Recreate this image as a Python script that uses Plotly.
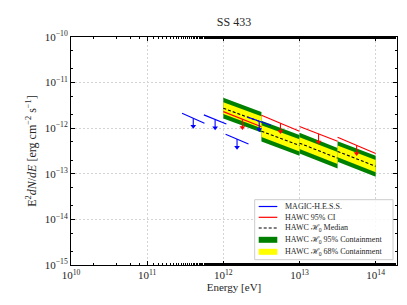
import plotly.graph_objects as go

# ---------------- data ----------------
# HAWC energy bins [eV]
bin_edges_eV = [1e12, 3.162e12, 1e13, 3.162e13, 1e14]

# HAWC H0 median (E^2 dN/dE at lower / upper bin edge) [erg cm^-2 s^-1]
median_start = [2.75e-12, 8.6e-13, 4.7e-13, 3.1e-13]
median_end = [1.35e-12, 4.2e-13, 2.2e-13, 1.46e-13]
# 68 % containment
c68_hi_start = [3.71e-12, 1.16e-12, 6.3e-13, 4.2e-13]
c68_hi_end = [1.82e-12, 5.7e-13, 3.0e-13, 2.0e-13]
c68_lo_start = [2.04e-12, 6.4e-13, 3.5e-13, 2.3e-13]
c68_lo_end = [1.00e-12, 3.1e-13, 1.63e-13, 1.08e-13]
# 95 % containment
c95_hi_start = [4.65e-12, 1.45e-12, 7.9e-13, 5.2e-13]
c95_hi_end = [2.28e-12, 7.1e-13, 3.7e-13, 2.5e-13]
c95_lo_start = [1.63e-12, 5.1e-13, 2.8e-13, 1.83e-13]
c95_lo_end = [0.80e-12, 2.5e-13, 1.3e-13, 0.86e-13]

# HAWC 95 % CI upper limits
hawc_ul_start = [2.31e-12, 1.93e-12, 1.09e-12, 6.3e-13]
hawc_ul_end = [1.08e-12, 8.6e-13, 5.2e-13, 2.8e-13]

# MAGIC-H.E.S.S. upper limits
magic_e_lo = [2.87e11, 5.55e11, 1.07e12, 2.08e12]
magic_e_hi = [5.65e11, 1.096e12, 2.14e12, 4.2e12]
magic_flux_start = [2.14e-12, 1.96e-12, 7.4e-13, 1.75e-12]
magic_flux_end = [1.29e-12, 1.24e-12, 4.5e-13, 1.16e-12]

x_tick_vals = [1e10, 1e11, 1e12, 1e13, 1e14]
x_tick_text = ["10<sup>10</sup>", "10<sup>11</sup>", "10<sup>12</sup>", "10<sup>13</sup>", "10<sup>14</sup>"]
y_tick_vals = [1e-15, 1e-14, 1e-13, 1e-12, 1e-11, 1e-10]
y_tick_text = ["10<sup>−15</sup>", "10<sup>−14</sup>", "10<sup>−13</sup>",
               "10<sup>−12</sup>", "10<sup>−11</sup>", "10<sup>−10</sup>"]

legend_labels = [
    "MAGIC-H.E.S.S.",
    "HAWC 95% CI",
    "HAWC ℋ<sub>0</sub> Median",
    "HAWC ℋ<sub>0</sub> 95% Containment",
    "HAWC ℋ<sub>0</sub> 68% Containment",
]

# ---------------- style ----------------
FONT = "Liberation Serif"
GREEN = "#008000"
YELLOW = "#ffff00"
RED = "#ff0000"
BLUE = "#0000ff"
TXT = "#262626"
ARROW_FRAC = 0.66  # arrow tip relative to the UL level (log-axis length)

fig = go.Figure()

n_bins = len(bin_edges_eV) - 1

# 95 % containment (green)
for i in range(n_bins):
    lo, hi = bin_edges_eV[i], bin_edges_eV[i + 1]
    fig.add_trace(go.Scatter(
        x=[lo, hi, hi, lo, lo],
        y=[c95_hi_start[i], c95_hi_end[i], c95_lo_end[i], c95_lo_start[i], c95_hi_start[i]],
        mode="lines", fill="toself", fillcolor=GREEN, line=dict(width=0, color=GREEN),
        name=legend_labels[3], showlegend=False, hoverinfo="skip"))

# 68 % containment (yellow)
for i in range(n_bins):
    lo, hi = bin_edges_eV[i], bin_edges_eV[i + 1]
    fig.add_trace(go.Scatter(
        x=[lo, hi, hi, lo, lo],
        y=[c68_hi_start[i], c68_hi_end[i], c68_lo_end[i], c68_lo_start[i], c68_hi_start[i]],
        mode="lines", fill="toself", fillcolor=YELLOW, line=dict(width=0, color=YELLOW),
        name=legend_labels[4], showlegend=False, hoverinfo="skip"))

# median (dashed black)
mx, my = [], []
for i in range(n_bins):
    mx += [bin_edges_eV[i], bin_edges_eV[i + 1], None]
    my += [median_start[i], median_end[i], None]
fig.add_trace(go.Scatter(x=mx, y=my, mode="lines",
                         line=dict(color="black", width=1.1, dash="3px,2px"),
                         name=legend_labels[2], showlegend=False))


def add_ul(e_lo, e_hi, f_start, f_end, color, name):
    lx, ly, ax, ay, tx, ty = [], [], [], [], [], []
    for a, b, fa, fb in zip(e_lo, e_hi, f_start, f_end):
        lx += [a, b, None]
        ly += [fa, fb, None]
        xc = (a * b) ** 0.5
        yc = (fa * fb) ** 0.5
        ax += [xc, xc, None]
        ay += [yc, yc * ARROW_FRAC, None]
        tx.append(xc)
        ty.append(yc * ARROW_FRAC)
    fig.add_trace(go.Scatter(x=lx, y=ly, mode="lines", line=dict(color=color, width=1.1),
                             name=name, showlegend=False))
    fig.add_trace(go.Scatter(x=ax, y=ay, mode="lines", line=dict(color=color, width=1.1),
                             showlegend=False, hoverinfo="skip"))
    fig.add_trace(go.Scatter(x=tx, y=ty, mode="markers",
                             marker=dict(symbol="triangle-down", size=5, color=color),
                             showlegend=False, hoverinfo="skip"))


add_ul(bin_edges_eV[:-1], bin_edges_eV[1:], hawc_ul_start, hawc_ul_end, RED, legend_labels[1])
add_ul(magic_e_lo, magic_e_hi, magic_flux_start, magic_flux_end, BLUE, legend_labels[0])

# ---------------- axes ----------------
axis_common = dict(
    type="log", showgrid=True, gridcolor="#d4d4d4", griddash="2px,2px", gridwidth=0.8,
    ticks="inside", ticklen=4, tickwidth=1, tickcolor="black",
    showline=True, linecolor="black", linewidth=1, mirror="ticks",
    zeroline=False,
    tickfont=dict(family=FONT, size=11, color=TXT),
    minor=dict(ticks="inside", ticklen=2, tickwidth=0.7, tickcolor="black", showgrid=False),
)
fig.update_xaxes(range=[10, 14.28], tickvals=x_tick_vals, ticktext=x_tick_text, **axis_common,
                 title=dict(text="Energy [eV]", font=dict(family=FONT, size=11, color=TXT), standoff=0))
fig.update_yaxes(range=[-15, -10], tickvals=y_tick_vals, ticktext=y_tick_text, **axis_common,
                 title=dict(text="E<sup>2</sup><i>dN</i>/<i>dE</i> [erg cm<sup>−2</sup> s<sup>−1</sup>]",
                            font=dict(family=FONT, size=12, color=TXT), standoff=5))

# ---------------- manual legend (matplotlib-like compact box) ----------------
PL, PR, PT, PB = 63, 389, 29, 257


def px2paper(px, py):
    return (px - PL) / (PR - PL), (PB - py) / (PB - PT)


shapes = []
bx0, by0 = px2paper(246.7, 251.7)
bx1, by1 = px2paper(385, 191.7)
shapes.append(dict(type="rect", xref="paper", yref="paper", x0=bx0, y0=by0, x1=bx1, y1=by1,
                   fillcolor="rgba(255,255,255,0.85)", line=dict(color="#cccccc", width=1), layer="above"))
entry_y = [198.5, 209.3, 220.0, 231.8, 243.8]
hx0, hx1, tx0 = 250.7, 269.3, 275
handle_styles = [("line", BLUE, None), ("line", RED, None), ("line", "black", "3px,2px"),
                 ("rect", GREEN, None), ("rect", YELLOW, None)]
annotations = []
for yy, lab, (kind, col, dash) in zip(entry_y, legend_labels, handle_styles):
    xa, ya = px2paper(hx0, yy)
    xb, _ = px2paper(hx1, yy)
    if kind == "line":
        shapes.append(dict(type="line", xref="paper", yref="paper", x0=xa, x1=xb, y0=ya, y1=ya,
                           line=dict(color=col, width=1.2, dash=dash if dash else "solid"), layer="above"))
    else:
        _, yt = px2paper(hx0, yy - 3)
        _, yb = px2paper(hx0, yy + 3)
        shapes.append(dict(type="rect", xref="paper", yref="paper", x0=xa, x1=xb, y0=yb, y1=yt,
                           fillcolor=col, line=dict(width=0), layer="above"))
    xt, _ = px2paper(tx0, yy)
    annotations.append(dict(xref="paper", yref="paper", x=xt, y=ya, text=lab, showarrow=False,
                            xanchor="left", yanchor="middle",
                            font=dict(family=FONT, size=8, color=TXT)))

fig.update_layout(
    width=407, height=305,
    margin=dict(l=PL, r=407 - PR, t=PT, b=305 - PB, autoexpand=False),
    paper_bgcolor="white", plot_bgcolor="white",
    font=dict(family=FONT, color=TXT),
    title=dict(text="SS 433", x=(PL + PR) / 2 / 407, xanchor="center", y=1 - 14 / 305,
               yanchor="middle", font=dict(family=FONT, size=12, color=TXT)),
    showlegend=False,
    shapes=shapes,
    annotations=annotations,
)

fig.write_html("out.html")
